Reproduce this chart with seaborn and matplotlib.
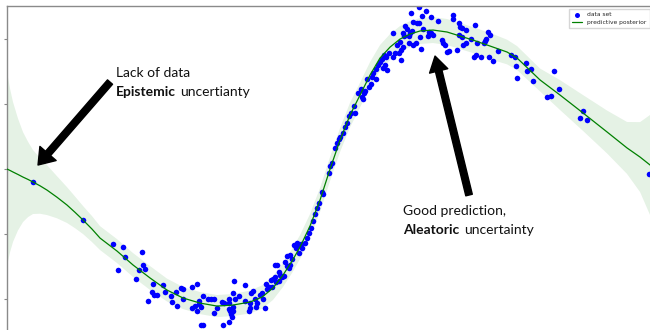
import numpy as np
import matplotlib
matplotlib.use("Agg")
import matplotlib.pyplot as plt
import seaborn as sns

# Observed samples
x_obs = [
    -2.97, -2.47,
    -2.17, -2.07, -2.05, -1.88, -2.12, -1.91, -1.87, -1.85, -1.94, -1.77, -1.67, -1.78, -1.76, -1.73, -1.65, -1.82,
    -1.59, -1.58, -1.54, -1.53, -1.49, -1.47, -1.47, -1.38, -1.33,
    -1.38, -1.35, -1.33, -1.31, -1.31, -1.29, -1.27, -1.22, -1.19, -1.16, -1.16, -1.13, -1.08, -1.06, -1.01, -1.01,
    -1.01, -1.00, -0.99, -0.97, -0.98, -0.97, -0.96, -0.95, -0.97, -1.01, -1.07, -1.29, -1.27, -0.91, -0.85, -0.85,
    -0.80, -0.79, -0.77, -0.81, -0.80, -0.75, -0.74, -0.73, -0.70, -0.68, -0.67, -0.65, -0.64, -0.63, -0.61, -0.59,
    -0.57, -0.55, -0.58, -0.54, -0.51, -0.51, -0.55, -0.53, -0.50, -0.48, -0.46, -0.45, -0.43, -0.41, -0.40, -0.43,
    -0.40, -0.38, -0.36, -0.34, -0.31, -0.31, -0.29, -0.28, -0.25, -0.33,
    -0.23, -0.21, -0.19, -0.17, -0.15, -0.13, -0.11,
    -0.08, -0.07, -0.01, 0.00, 0.02, 0.05, 0.07, 0.09, 0.10, 0.13, 0.15, 0.17, 0.19, 0.21, 0.24, 0.25, 0.28, 0.31,
    0.32, 0.33, 0.34, 0.35, 0.37, 0.39, 0.41,
    0.43, 0.42, 0.46, 0.46, 0.48, 0.50, 0.52, 0.54, 0.56, 0.57, 0.59, 0.53, 0.55, 0.63, 0.65, 0.69, 0.71, 0.71,
    0.73, 0.67, 0.70, 0.79, 0.83, 0.86, 0.91, 0.90, 0.63, 0.73, 0.74, 0.79, 0.75, 0.77, 0.80, 0.82, 0.83, 0.87,
    0.89, 0.81, 0.89, 0.92, 0.96, 1.01, 0.93, 0.99, 1.01, 1.03, 0.98, 1.08, 1.12, 1.13, 1.15, 1.17, 1.19, 1.27,
    1.23, 1.23, 1.29, 1.30, 1.32, 1.36, 1.45, 1.29, 1.32, 1.36, 1.33, 1.41, 1.47, 1.58, 1.60, 1.55, 1.56, 1.54,
    1.44, 1.46, 1.51, 1.59, 1.63, 1.68, 1.81, 1.85, 1.86, 1.87, 1.96, 1.97, 2.01, 2.03,
    2.24, 2.29, 2.17, 2.21, 2.53, 2.50, 2.57, 3.19,
]
y_obs = [
    -1.00, -3.92,
    -5.77, -6.00, -6.77, -6.38, -7.77, -7.77, -7.38, -7.69, -8.46, -8.85, -8.92, -9.46, -9.69, -9.69, -9.46, -10.15,
    -9.77, -10.23, -9.46, -10.54, -9.15, -9.23, -10.00, -9.08, -8.85,
    -10.69, -10.54, -10.92, -10.15, -10.38, -10.62, -9.77, -10.00, -10.00, -10.00, -11.08, -10.69, -10.23, -10.31, -10.31, -10.00,
    -10.77, -10.92, -11.15, -10.92, -11.38, -9.54, -8.62, -10.00, -10.62, -11.77, -12.00, -12.00, -12.00, -9.77, -8.92, -10.15,
    -10.31, -9.54, -9.38, -10.92, -10.69, -10.00, -10.62, -10.31, -9.69, -9.54, -10.00, -10.69, -8.85, -9.23, -9.08, -8.54,
    -8.46, -8.31, -9.08, -8.69, -8.62, -7.92, -7.38, -7.38, -8.15, -8.31, -8.23, -7.15, -7.46, -7.62, -7.38, -6.69,
    -6.62, -6.92, -5.85, -6.08, -5.85, -6.46, -5.77, -6.08, -5.69, -5.69,
    -5.31, -4.92, -4.54, -4.00, -3.46, -3.00, -2.62,
    -1.77, -1.92, -0.31, 0.23, 0.46, 1.62, 2.00, 2.31, 2.46, 2.77, 3.23, 3.54, 4.08, 4.31, 4.85, 4.31, 5.85, 6.15,
    5.54, 5.38, 5.85, 6.00, 6.92, 6.31, 6.54,
    7.38, 7.08, 7.69, 6.92, 8.00, 8.23, 8.46, 8.77, 8.62, 7.62, 8.92, 7.77, 8.00, 8.62, 8.92, 8.92, 9.15, 8.38,
    9.38, 9.54, 9.77, 9.69, 9.54, 9.69, 9.23, 10.15, 10.46, 10.46, 10.23, 10.23, 11.00, 10.77, 10.46, 10.62, 11.31, 11.23,
    11.23, 12.00, 12.46, 11.77, 12.15, 11.69, 10.77, 10.54, 10.46, 10.31, 10.23, 11.38, 9.92, 9.69, 9.54, 9.00, 9.08, 9.15,
    11.85, 11.54, 11.23, 10.92, 10.85, 10.69, 11.08, 10.31, 10.15, 9.69, 9.54, 10.00, 9.69, 10.54, 10.31, 9.85, 10.00, 9.69,
    8.62, 8.77, 8.62, 8.62, 8.31, 9.08, 8.77, 8.62, 7.92, 7.00, 8.15, 7.54, 7.69, 6.77,
    7.54, 6.15, 5.54, 5.62, 4.46, 3.92, 3.77, -0.38,
]

# Predictive posterior: mean and half-width of the credible band
x_pred = [
    -3.23, -3.20, -3.17, -3.12, -3.07, -3.02, -2.97, -2.90, -2.83, -2.73, -2.63, -2.55, -2.47, -2.38, -2.30,
    -2.13, -1.97, -1.80, -1.63, -1.47, -1.30, -1.13,
    -0.97, -0.80, -0.68, -0.57, -0.47, -0.38, -0.30, -0.20, -0.10, 0.00, 0.10, 0.20, 0.30, 0.40, 0.50, 0.60,
    0.70, 0.80, 0.90, 1.03, 1.17, 1.30, 1.43, 1.63, 1.77, 1.87, 2.10, 2.30, 2.53, 2.77, 2.97, 3.10, 3.20, 3.30,
]
mean_pred = [
    0.00, -0.11, -0.23, -0.42, -0.62, -0.80, -1.00, -1.29, -1.62, -2.17, -2.77, -3.33, -3.92, -4.62, -5.31,
    -6.31, -7.38, -8.38, -9.31, -9.92, -10.31, -10.54,
    -10.46, -10.23, -9.85, -9.15, -8.15, -7.08, -6.00, -4.38, -2.38, 0.00, 2.23, 4.15, 5.69, 7.23, 8.54, 9.38,
    10.00, 10.38, 10.62, 10.69, 10.54, 10.23, 9.92, 9.38, 9.00, 8.54, 6.85, 5.69, 4.31, 2.85, 1.62, 0.92, 0.31, -0.23,
]
band_pred = [
    7.46, 6.30, 5.38, 4.30, 3.46, 2.90, 2.46, 2.15, 1.92, 1.62, 1.38, 1.22, 1.08, 1.00, 0.92,
    0.92, 0.92, 0.92, 0.88, 0.85, 0.85, 0.85,
    0.85, 0.88, 0.90, 0.92, 0.92, 0.92, 0.92, 0.92, 0.92, 0.92, 0.92, 0.95, 0.95, 1.00, 1.00, 1.00,
    1.00, 1.00, 1.00, 1.00, 1.00, 1.00, 1.00, 1.00, 0.95, 0.92, 0.88, 1.15, 1.38, 1.65, 2.00, 2.69, 3.85, 5.40,
]

sns.set_style("white")
plt.rcParams["font.family"] = ["Lato", "DejaVu Sans"]

fig = plt.figure(figsize=(6.5, 3.3), dpi=100)
ax = fig.add_axes([0.0108, -0.0303, 1.017, 1.0121])

sns.scatterplot(x=x_obs, y=y_obs, color="blue", s=16, linewidth=0, ax=ax,
                label="data set", zorder=2)
sns.lineplot(x=x_pred, y=mean_pred, color="green", linewidth=0.9, sort=False,
             estimator=None, ax=ax, label="predictive posterior", zorder=3)
lo = np.array(mean_pred) - np.array(band_pred)
hi = np.array(mean_pred) + np.array(band_pred)
ax.fill_between(x_pred, lo, hi, color="green", alpha=0.1, linewidth=0, zorder=1)

ax.set_xlim(-3.23, 3.38)
ax.set_ylim(-13.15, 12.54)
ax.set_yticks([-10, -5, 0, 5, 10])
ax.set_xticks([])
ax.tick_params(axis="y", left=True, length=2.5, width=0.8, color="#888888", labelleft=False)
for side in ["left", "top", "right", "bottom"]:
    ax.spines[side].set_color("#8a8a8a")
    ax.spines[side].set_linewidth(1.0)

leg = ax.legend(loc="upper left", bbox_to_anchor=(0.875, 0.973), bbox_transform=fig.transFigure,
                prop={"family": "DejaVu Sans", "size": 4.3}, borderaxespad=0, handlelength=1.8,
                handletextpad=0.8, labelspacing=0.5, borderpad=0.5, frameon=True, fancybox=False,
                edgecolor="#cccccc", markerscale=0.9)

# Annotations
fs = 10
ax.text(-2.14, 7.38, "Lack of data", fontsize=fs, va="center", ha="left", color="#111111")
t_epi = ax.text(-2.14, 5.92, "Epistemic", fontsize=fs, fontweight="bold", va="center", ha="left",
                color="#111111")
ax.annotate("uncertianty", xy=(1, 0), xycoords=t_epi, xytext=(3.2, 0), textcoords="offset points",
            fontsize=fs, va="bottom", ha="left", color="#111111")

ax.text(0.73, -3.23, "Good prediction,", fontsize=fs, va="center", ha="left", color="#111111")
t_ale = ax.text(0.73, -4.69, "Aleatoric", fontsize=fs, fontweight="bold", va="center", ha="left",
                color="#111111")
ax.annotate("uncertainty", xy=(1, 0), xycoords=t_ale, xytext=(3.2, 0), textcoords="offset points",
            fontsize=fs, va="bottom", ha="left", color="#111111")

arrow_kw = dict(facecolor="black", edgecolor="black", width=4.8, headwidth=15.5, headlength=11, shrink=0)
ax.annotate("", xy=(-2.92, 0.31), xytext=(-2.20, 6.69), arrowprops=arrow_kw)
ax.annotate("", xy=(1.05, 8.69), xytext=(1.39, -2.00),
            arrowprops=dict(arrow_kw, headwidth=13.5))

fig.savefig("out.png", dpi=100)
